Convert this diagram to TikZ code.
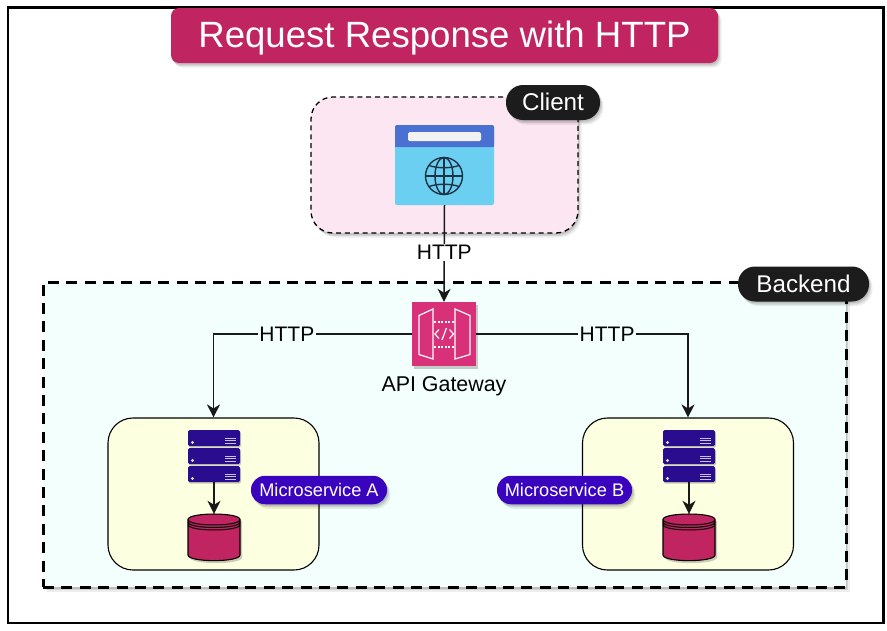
\documentclass[tikz,border=0pt]{standalone}
\usepackage{fontspec}
\setmainfont{Liberation Sans}
\usetikzlibrary{arrows.meta,shadows,positioning}
\definecolor{titlec}{HTML}{C02461}
\definecolor{clientbg}{HTML}{FBE6F1}
\definecolor{backbg}{HTML}{F2FFFC}
\definecolor{msbg}{HTML}{FCFFE0}
\definecolor{pillblack}{HTML}{1C1C1C}
\definecolor{pillblue}{HTML}{3A04BE}
\definecolor{srv}{HTML}{2A0C8E}
\definecolor{gwc}{HTML}{D9307A}
\definecolor{brhead}{HTML}{4A70D2}
\definecolor{brbody}{HTML}{6BCFF1}
\definecolor{globec}{HTML}{1E3344}
\tikzset{
  softshadow/.style={
    drop shadow={shadow xshift=1pt,shadow yshift=-1.5pt,opacity=0.10,fill=black},
    drop shadow={shadow xshift=2pt,shadow yshift=-3pt,opacity=0.10,fill=black},
    drop shadow={shadow xshift=3.5pt,shadow yshift=-4.5pt,opacity=0.07,fill=black}},
  titlebox/.style={rectangle,rounded corners=8pt,fill=titlec,text=white,softshadow,minimum width=547pt,minimum height=55pt,inner sep=0pt,font=\fontsize{36.6}{40}\selectfont},
  clientframe/.style={rectangle,rounded corners=22pt,fill=clientbg,draw=black,line width=1.3pt,dash pattern=on 5pt off 3.8pt,softshadow,minimum width=267pt,minimum height=136pt,inner sep=0pt},
  backframe/.style={rectangle,fill=backbg,draw=black,line width=3pt,dash pattern=on 11pt off 7.4pt,softshadow,minimum width=803pt,minimum height=305pt,inner sep=0pt},
  msbox/.style={rectangle,rounded corners=25pt,fill=msbg,draw=black,line width=1.1pt,minimum width=211pt,minimum height=152pt,inner sep=0pt},
  pilldark/.style={rectangle,rounded corners=17pt,fill=pillblack,text=white,softshadow,minimum height=35pt,inner sep=0pt,font=\fontsize{24.2}{28}\selectfont},
  pillms/.style={rectangle,rounded corners=14pt,fill=pillblue,text=white,softshadow,minimum height=28.5pt,inner sep=0pt,font=\fontsize{18.2}{22}\selectfont},
  anchorbox/.style={rectangle,inner sep=0pt,minimum width=52pt},
  conn/.style={line width=1.5pt,draw=black!90,-{Stealth[length=13pt,width=13pt,inset=4pt]}},
  edgelabel/.style={inner sep=1.5pt,font=\fontsize{21}{24}\selectfont},
  plain/.style={inner sep=0pt,font=\fontsize{21.4}{25}\selectfont},
}
\newcommand{\serverstack}[2]{%
  \begin{scope}[shift={(#1,#2)}]
    \foreach \t in {0,18,36}{
      \fill[srv,rounded corners=1.5pt,drop shadow={shadow xshift=1pt,shadow yshift=-1.5pt,opacity=0.2,fill=black}] (0,\t) rectangle (52,\t+16);
      \fill[white!85!srv] (4.5,\t+12.5) circle[radius=1.6];
      \foreach \s in {8.5,10.8,13.1}{
        \draw[white!75!srv,line width=0.7pt] (37,\t+\s) -- (48,\t+\s);
      }
    }
  \end{scope}}
\newcommand{\cylinder}[2]{%
  \begin{scope}[shift={(#1,#2)}]
    \draw[fill=titlec,draw=black,line width=1.1pt,drop shadow={shadow xshift=2pt,shadow yshift=-2.5pt,opacity=0.2,fill=black}]
      (0,5.5) -- (0,41) .. controls (0,48.5) and (52,48.5) .. (52,41) -- (52,5.5)
      .. controls (52,-1.8) and (0,-1.8) .. (0,5.5) -- cycle;
    \foreach \d in {5.5,8,10.5}{
      \draw[black,line width=1pt] (0,\d) .. controls (0,\d+7.3) and (52,\d+7.3) .. (52,\d);
    }
  \end{scope}}
\begin{document}
\begin{tikzpicture}[x=1pt,y=-1pt]
\useasboundingbox (0,0) rectangle (887,630);
\fill[white] (0,0) rectangle (887,630);
\draw[black,line width=2.6pt] (8,7.5) rectangle (883.5,623);
\node[backframe] (backend) at (444.5,434.5) {};
\node[clientframe] (client) at (444.5,165) {};
\node[titlebox,text height=26pt,text depth=7pt] (title) at (444.5,35.5) {\raisebox{-2pt}{Request Response with HTTP}};
\node[pilldark,minimum width=94pt] (clientpill) at (553,102.5) {\raisebox{1pt}{Client}};
\node[pilldark,minimum width=131pt] (backendpill) at (803.5,284) {Backend};
% browser
\node[rectangle,rounded corners=2pt,fill=brbody,minimum width=99pt,minimum height=80pt,inner sep=0pt] (browser) at (444.5,165) {};
\fill[brhead,rounded corners=2pt] (395,147) rectangle (494,125);
\fill[brhead] (395,147) rectangle (494,135);
\fill[white!95!black,rounded corners=1.5pt] (408,132) rectangle (481,141);
\begin{scope}[globec,line width=1.4pt]
  \draw (444,176) circle[radius=18.5];
  \draw (444,176) ellipse[x radius=9,y radius=18.5];
  \draw (425.5,176) -- (462.5,176);
  \draw (444,157.5) -- (444,194.5);
  \draw (429,165.5) .. controls (437.5,168.5) and (450.5,168.5) .. (459,165.5);
  \draw (429,186.5) .. controls (437.5,183.5) and (450.5,183.5) .. (459,186.5);
\end{scope}
% gateway
\node[rectangle,fill=gwc,minimum size=64pt,inner sep=0pt,drop shadow={shadow xshift=2pt,shadow yshift=-2.5pt,opacity=0.2,fill=black}] (gateway) at (444,334) {};
\begin{scope}[white,line width=1.2pt]
  \draw (419,315.5) -- (433,309) -- (433,359) -- (419,354.5) -- cycle;
  \draw (470,315.5) -- (455,309) -- (455,359) -- (470,354.5) -- cycle;
  \draw[dash pattern=on 2pt off 1.6pt] (434,322) -- (454,322);
  \draw[dash pattern=on 2pt off 1.6pt] (434,347) -- (454,347);
  \draw (439,329.5) -- (435,334) -- (439,338.5);
  \draw (449.5,329.5) -- (453.5,334) -- (449.5,338.5);
  \draw (446.5,328) -- (442,340);
\end{scope}
\node[plain,below=10pt of gateway] (gwlabel) {API Gateway};
% microservice A
\node[msbox] (msa) at (213.5,494) {};
\node[anchorbox,minimum height=52pt] (srva) at (214,456) {};
\node[anchorbox,minimum height=46pt] (dba) at (214,537) {};
\serverstack{188}{430}
\cylinder{188}{514}
\node[pillms,minimum width=136pt] (labela) at (319,490) {\raisebox{1pt}{Microservice A}};
% microservice B
\node[msbox] (msb) at (688,494) {};
\node[anchorbox,minimum height=52pt] (srvb) at (689,456) {};
\node[anchorbox,minimum height=46pt] (dbb) at (689,537) {};
\serverstack{663}{430}
\cylinder{663}{514}
\node[pillms,minimum width=135pt] (labelb) at (564.5,490) {\raisebox{1pt}{Microservice B}};
% connectors
\draw[conn] (browser.south) -- node[edgelabel,fill=white,pos=0.49] (h1) {HTTP} (gateway.north);
\draw[conn] (gateway.west) -| node[edgelabel,fill=backbg,pos=0.315] (h2) {HTTP} (msa.north);
\draw[conn] (gateway.east) -| node[edgelabel,fill=backbg,pos=0.309] (h3) {HTTP} (msb.north);
\draw[conn] (srva.south) -- (dba.north);
\draw[conn] (srvb.south) -- (dbb.north);
\end{tikzpicture}
\end{document}
